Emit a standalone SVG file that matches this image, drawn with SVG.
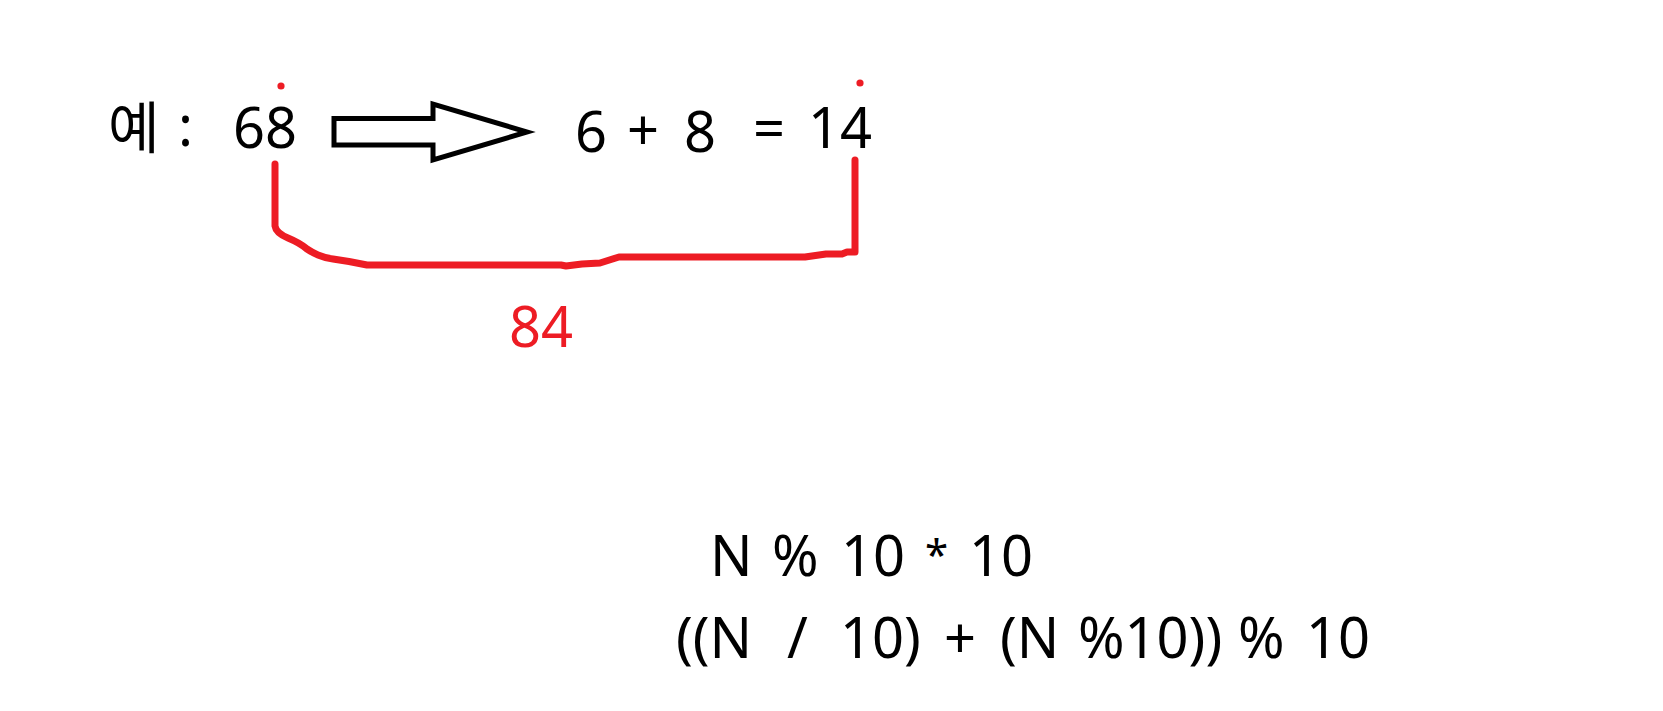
<svg xmlns="http://www.w3.org/2000/svg" width="1663" height="711" viewBox="0 0 1663 711">
<style>
.t{font-family:"Noto Sans","Noto Sans CJK KR",sans-serif;font-size:56px;fill:#000}
.r{fill:#ED1C24}
.red{fill:none;stroke:#ED1C24;stroke-width:7;stroke-linecap:round;stroke-linejoin:round}
.arr{fill:#fff;stroke:#000;stroke-width:5;stroke-linejoin:miter}
</style>
<rect width="1663" height="711" fill="#fff"/>
<g id="example">
<text class="t" x="108" y="148">예</text>
<text class="t" x="178" y="146">:</text>
<text class="t" x="233" y="148">68</text>
</g>
<g id="sum">
<text class="t" x="575" y="152">6</text>
<text class="t" x="627" y="150">+</text>
<text class="t" x="684" y="152">8</text>
<text class="t" x="753" y="148">=</text>
<text class="t" x="808" y="148">14</text>
</g>
<g id="label84">
<text class="t r" x="509" y="347">84</text>
</g>
<g id="formula1">
<text class="t" y="576"><tspan x="710">N</tspan><tspan x="772">%</tspan><tspan x="841">10</tspan><tspan x="925" y="570" font-size="42">*</tspan><tspan x="969" y="576">10</tspan></text>
</g>
<g id="formula2">
<text class="t" y="658"><tspan x="676">((N</tspan><tspan x="787">/</tspan><tspan x="840">10)</tspan><tspan x="944">+</tspan><tspan x="1000">(N</tspan><tspan x="1078">%10))</tspan><tspan x="1238">%</tspan><tspan x="1306">10</tspan></text>
</g>
<g id="connectors">
<polygon class="arr" points="334,118.5 433,118.5 433,104 527,132 433,160 433,145 334,145"/>
<circle cx="281" cy="86" r="3.6" fill="#ED1C24"/>
<circle cx="860" cy="83" r="3.6" fill="#ED1C24"/>
<path class="red" d="M275,164 L275,226 Q276,233 288,238 Q300,243 307,249 Q313,253 318,255 Q325,258 333,259 L349,261.5 L367,265 L561,265 L566,266 L582,264 L600,263 L619,257 L792,257 L805,257 L826,254 L842,254 L847,252 L855,252 L855,160"/>
</g>
</svg>
